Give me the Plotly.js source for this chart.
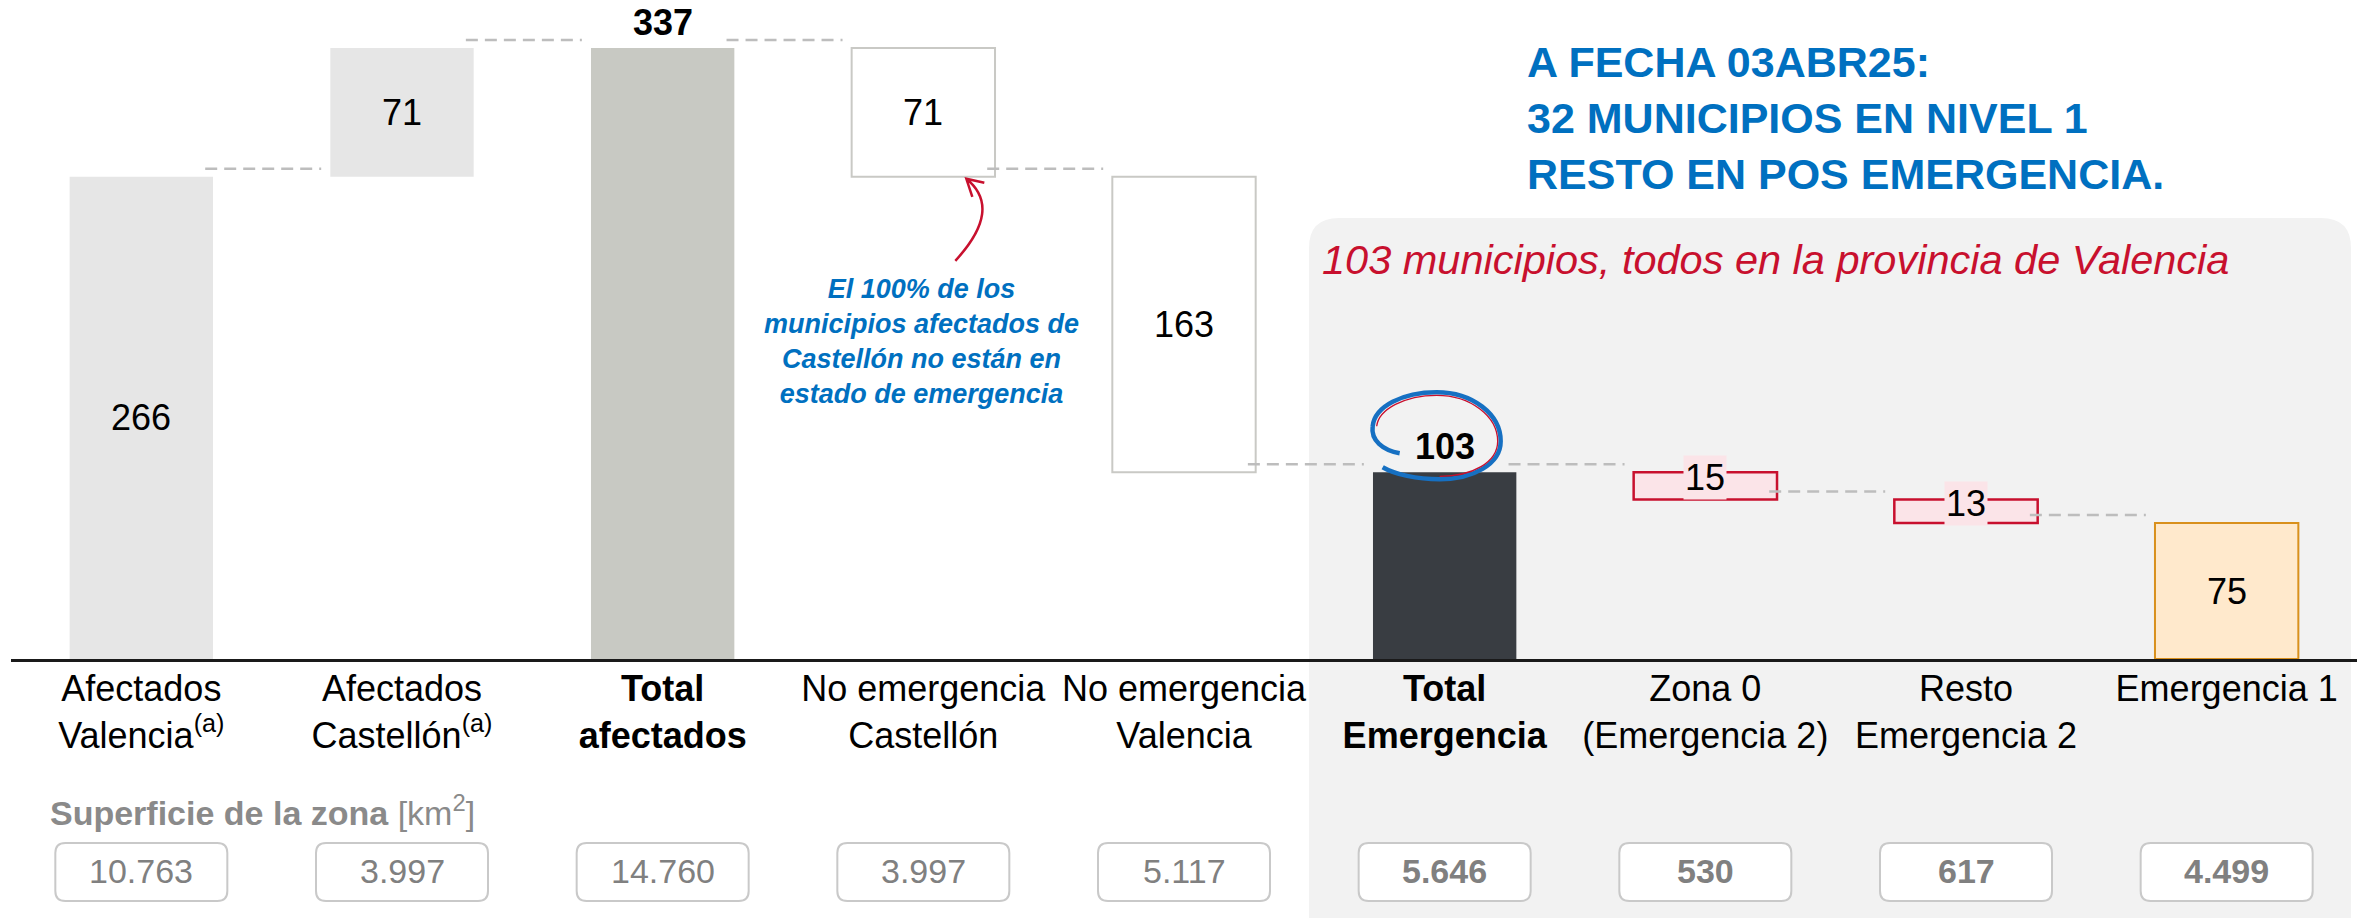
<!DOCTYPE html>
<html>
<head>
<meta charset="utf-8">
<script src="https://cdn.plot.ly/plotly-3.0.1.min.js"></script>
<style>
  html, body { margin: 0; padding: 0; background: #fff; }
  #chart { width: 2364px; height: 918px; }
</style>
</head>
<body>
<div id="chart"></div>
<script>
// municipios per step of the waterfall
const categories = [
    "Afectados Valencia", "Afectados Castellón", "Total afectados",
    "No emergencia Castellón", "No emergencia Valencia", "Total Emergencia",
    "Zona 0 (Emergencia 2)", "Resto Emergencia 2", "Emergencia 1"
];
const tickLabels = [
    "Afectados<br>Valencia<sup>(a)</sup>",
    "Afectados<br>Castellón<sup>(a)</sup>",
    "<b>Total</b><br><b>afectados</b>",
    "No emergencia<br>Castellón",
    "No emergencia<br>Valencia",
    "<b>Total</b><br><b>Emergencia</b>",
    "Zona 0<br>(Emergencia 2)",
    "Resto<br>Emergencia 2",
    "Emergencia 1"
];
const values = [266, 71, 337, 71, 163, 103, 15, 13, 75];
// up = adds to running total, down = subtracts, total = full bar
const steps = ["up", "up", "total", "down", "down", "total", "down", "down", "total"];
// superficie de la zona [km2]
const surfaces = ["10.763", "3.997", "14.760", "3.997", "5.117", "5.646", "530", "617", "4.499"];

// styles
const fills = ["#E6E6E6", "#E6E6E6", "#C8C9C3", "#FFFFFF", "#FFFFFF", "#393D42", "#FBE4E8", "#FBE4E8", "#FFE9CC"];
const borders = ["#E6E6E6", "#E6E6E6", "#C8C9C3", "#C9C9C5", "#C9C9C5", "#393D42", "#C8102E", "#C8102E", "#D9901C"];
const borderWidths = [0, 0, 0, 2, 2, 0, 2.5, 2.5, 2];
const labelPos = ["in", "in", "above", "in", "in", "above", "tag", "tag", "in"];
const FONT = "Liberation Sans, Arial, sans-serif";

// running totals -> base of each bar and level after it
let level = 0;
const bases = [];
const levels = [];
values.forEach((v, i) => {
    if (steps[i] === "total") {
        bases.push(0);
        level = v;
    } else if (steps[i] === "up") {
        bases.push(level);
        level += v;
    } else {
        level -= v;
        bases.push(level);
    }
    levels.push(level);
});

// plot area in pixels (used to place free text)
const W = 2364, H = 918;
const M = { l: 11, r: 7, t: 10, b: 259 };
const plotW = W - M.l - M.r, plotH = H - M.t - M.b;
const px = (x) => (x - M.l) / plotW;
const py = (y) => (H - M.b - y) / plotH;

var bars = {
    type: "bar",
    x: categories,
    y: values,
    base: bases,
    width: 0.55,
    marker: {
        color: fills,
        line: { color: borders, width: borderWidths }
    },
    hoverinfo: "skip"
};

var shapes = [];
var annotations = [];

// grey panel behind the emergency part
shapes.push({
    type: "path", layer: "below",
    xref: "paper", yref: "paper", xsizemode: "pixel", ysizemode: "pixel",
    xanchor: 0, yanchor: 0,
    path: "M 1298 -300 L 1298 411 Q 1298 441 1328 441 L 2310 441 Q 2340 441 2340 411 L 2340 -300 Z",
    fillcolor: "#F2F2F2", line: { width: 0 }
});

// dashed connectors between bars
for (let i = 0; i < values.length - 1; i++) {
    shapes.push({
        type: "line", xref: "x", yref: "y", ysizemode: "pixel",
        yanchor: levels[i], y0: 8, y1: 8,
        x0: i + 0.245, x1: i + 0.69,
        line: { color: "#BDBDBD", width: 2.5, dash: "12px,7px" }
    });
}

// value labels
values.forEach((v, i) => {
    const a = {
        x: categories[i], xref: "x", yref: "y",
        showarrow: false,
        font: { family: FONT, size: 36, color: "#000" }
    };
    if (labelPos[i] === "above") {
        a.text = "<b>" + v + "</b>";
        a.y = bases[i] + v;
        a.yanchor = "bottom";
        a.yshift = 3;
    } else {
        a.text = String(v);
        a.y = bases[i] + v / 2;
        a.yanchor = "middle";
        if (labelPos[i] === "tag") {
            a.bgcolor = "#FBE4E8";
            a.borderpad = 1;
            a.yshift = 8;
        }
    }
    annotations.push(a);
});

// surface boxes
surfaces.forEach((s, i) => {
    shapes.push({
        type: "path", xref: "x", yref: "paper",
        xsizemode: "pixel", ysizemode: "pixel",
        xanchor: i, yanchor: 0,
        path: "M -76 -184 L 76 -184 Q 86 -184 86 -194 L 86 -232 Q 86 -242 76 -242 " +
              "L -76 -242 Q -86 -242 -86 -232 L -86 -194 Q -86 -184 -76 -184 Z",
        fillcolor: "#FFFFFF", line: { color: "#C9C9C9", width: 2 }
    });
    annotations.push({
        x: categories[i], xref: "x", y: py(871), yref: "paper",
        text: i >= 5 ? "<b>" + s + "</b>" : s,
        showarrow: false, yanchor: "middle",
        font: { family: FONT, size: 34, color: "#808080" }
    });
});

annotations.push({
    x: px(48), y: py(810), xref: "paper", yref: "paper",
    xanchor: "left", yanchor: "middle", showarrow: false,
    text: "<b>Superficie de la zona</b> [km<sup>2</sup>]",
    font: { family: FONT, size: 34, color: "#8A8A8A" }
});

// headline
annotations.push({
    x: px(1525), y: py(118), xref: "paper", yref: "paper",
    xanchor: "left", yanchor: "middle", align: "left", showarrow: false,
    text: "<b>A FECHA 03ABR25:<br>32 MUNICIPIOS EN NIVEL 1<br>RESTO EN POS EMERGENCIA.</b>",
    font: { family: FONT, size: 43, color: "#0070C0" }
});

annotations.push({
    x: px(1320), y: py(259), xref: "paper", yref: "paper",
    xanchor: "left", yanchor: "middle", showarrow: false,
    text: "<i>103 municipios, todos en la provincia de Valencia</i>",
    font: { family: FONT, size: 41.5, color: "#C8102E" }
});

annotations.push({
    x: px(921), y: py(341), xref: "paper", yref: "paper",
    xanchor: "center", yanchor: "middle", align: "center", showarrow: false,
    text: "<b><i>El 100% de los<br>municipios afectados de<br>Castellón no están en<br>estado de emergencia</i></b>",
    font: { family: FONT, size: 27, color: "#0070C0" }
});

// red curved arrow pointing at the Castellón box
shapes.push({
    type: "path", xref: "x", yref: "y", xsizemode: "pixel", ysizemode: "pixel",
    xanchor: 3, yanchor: bases[3],
    path: "M 32 -84 Q 80 -32 43 -2 M 61 -6 L 43 -2 L 49 -20",
    line: { color: "#C8102E", width: 2.5 }
});

// hand drawn circle around 103
shapes.push({
    type: "path", xref: "x", yref: "y", xsizemode: "pixel", ysizemode: "pixel",
    xanchor: 5, yanchor: values[5],
    path: "M -45 19 C -62 22 -74 32 -72 46 C -70 66 -42 80 -8 80 C 28 80 56 58 56 31 " +
          "C 56 8 28 -7 -5 -7 C -28 -7 -50 -2 -62 5",
    line: { color: "#1670C2", width: 4.5 }
});
shapes.push({
    type: "path", xref: "x", yref: "y", xsizemode: "pixel", ysizemode: "pixel",
    xanchor: 5, yanchor: values[5],
    path: "M -68 46 C -66 63 -40 77 -8 77 C 26 77 53 56 53 31 C 53 10 28 -4 -5 -4",
    line: { color: "#C8102E", width: 1.3 }
});

var layout = {
    width: W,
    height: H,
    margin: M,
    paper_bgcolor: "#FFFFFF",
    plot_bgcolor: "rgba(0,0,0,0)",
    showlegend: false,
    bargap: 0.45,
    xaxis: {
        type: "category",
        range: [-0.5, 8.5],
        tickmode: "array",
        tickvals: categories,
        ticktext: tickLabels,
        ticks: "",
        ticklabelstandoff: -4,
        showgrid: false,
        zeroline: false,
        showline: true,
        linecolor: "#1A1A1A",
        linewidth: 2.5,
        tickfont: { family: FONT, size: 36, color: "#000" }
    },
    yaxis: {
        range: [0, 358],
        showgrid: false,
        zeroline: false,
        showticklabels: false,
        showline: false
    },
    shapes: shapes,
    annotations: annotations
};

Plotly.newPlot("chart", [bars], layout, { displayModeBar: false, staticPlot: true });
</script>
</body>
</html>
